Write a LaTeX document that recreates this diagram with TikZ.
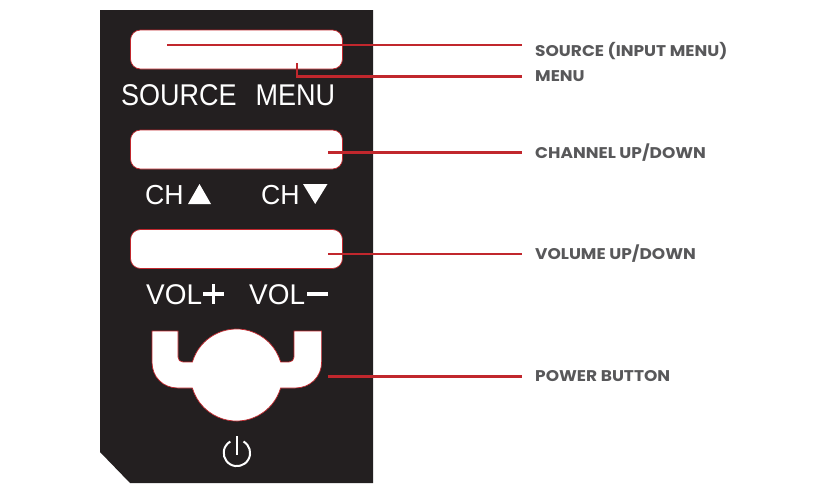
\documentclass[tikz,border=0pt]{standalone}
\usepackage{graphicx}
\usepackage{fontspec}
\setmainfont{Liberation Sans}
\newfontfamily\calloutfont{Poppins}
\newcommand{\widelabel}[1]{\scalebox{1.095}[1]{#1}}
\newcommand{\narrowkey}[1]{\scalebox{0.9}[1]{#1}}
\definecolor{panelblack}{HTML}{231F20}
\definecolor{leadred}{HTML}{C1272D}
\definecolor{labelgrey}{HTML}{58585A}
\tikzset{
  keybtn/.style={draw=leadred,line width=0.7pt,fill=white,rounded corners=10pt,minimum width=212pt,minimum height=39pt,inner sep=0pt},
  keytext/.style={text=white,font=\fontsize{#1}{#1}\selectfont,inner sep=0pt,anchor=base west},
  callout/.style={text=labelgrey,font=\calloutfont\bfseries\fontsize{15.5}{16}\selectfont,inner sep=0pt,anchor=west},
  lead/.style={draw=leadred,line width=2.4pt,shorten >=13pt},
  glyph/.style={fill=white,draw=none}
}
\begin{document}
\begin{tikzpicture}[x=1pt,y=-1pt]
\useasboundingbox (0,0) rectangle (824,493);
\fill[panelblack] (100,10) -- (373,10) -- (373,483) -- (130,483) -- (100,452) -- cycle;
\node[keybtn] (btnA) at (236.5,49.5) {};
\node[keybtn] (btnB) at (236.5,149.5) {};
\node[keybtn] (btnC) at (236.5,249) {};
\draw[leadred,line width=0.7pt,fill=white]
  (152,331) -- (178,331) -- (178,357) .. controls (178,360) and (180,362) .. (183,362)
  -- (192.4,362) arc[start angle=196.4,end angle=343.6,radius=46]
  -- (289,362) .. controls (292,362) and (294,360) .. (294,357)
  -- (294,331) -- (321.6,331) -- (321.6,362) .. controls (321.6,377) and (310,388) .. (295,388)
  -- (280.6,388) arc[start angle=16.4,end angle=163.6,radius=46]
  -- (178,388) .. controls (163,388) and (152,377) .. (152,362) -- cycle;
\node[keytext=30] (tSource) at (121,105) {\narrowkey{SOURCE}};
\node[keytext=30] (tMenu) at (255.5,105) {\narrowkey{MENU}};
\node[keytext=27.5] (tChUp) at (145,204) {\scalebox{0.97}[1]{CH}};
\node[keytext=27.5] (tChDn) at (261,204) {\scalebox{0.97}[1]{CH}};
\node[keytext=28.5] (tVolP) at (146,304) {\scalebox{0.98}[1]{VOL}};
\node[keytext=28.5] (tVolM) at (249,304) {\scalebox{0.98}[1]{VOL}};
\fill[glyph] (188,204) -- (199.5,184) -- (211,204) -- cycle;
\fill[glyph] (303,184) -- (327.5,184) -- (315.2,204) -- cycle;
\fill[glyph] (203,292.2) rectangle (224,295.8);
\fill[glyph] (211.7,283.5) rectangle (215.3,304);
\fill[glyph] (307,292.2) rectangle (328,295.8);
\draw[white,line width=2pt] (243.5,441.5) arc[start angle=-60,end angle=240,radius=13.2];
\draw[white,line width=2pt] (236.7,436) -- (236.7,455);
\node[callout] (lSource) at (535,51.5) {\widelabel{SOURCE (INPUT MENU)}};
\node[callout] (lMenu) at (535,76.5) {\widelabel{MENU}};
\node[callout] (lChan) at (535,152.5) {\widelabel{CHANNEL UP/DOWN}};
\node[callout] (lVol) at (535,254) {\widelabel{VOLUME UP/DOWN}};
\node[callout] (lPower) at (535,376.5) {\widelabel{POWER BUTTON}};
\coordinate (sSource) at (167,45);
\coordinate (sMenu) at (297,63);
\coordinate (sChan) at (328,152.5);
\coordinate (sVol) at (328,254);
\coordinate (sPower) at (328,376.5);
\draw[lead] (sSource) -- (sSource -| lSource.west);
\draw[lead] (sMenu) |- (lMenu.west);
\draw[lead] (sChan) -- (lChan.west);
\draw[lead] (sVol) -- (lVol.west);
\draw[lead] (sPower) -- (lPower.west);
\end{tikzpicture}
\end{document}
